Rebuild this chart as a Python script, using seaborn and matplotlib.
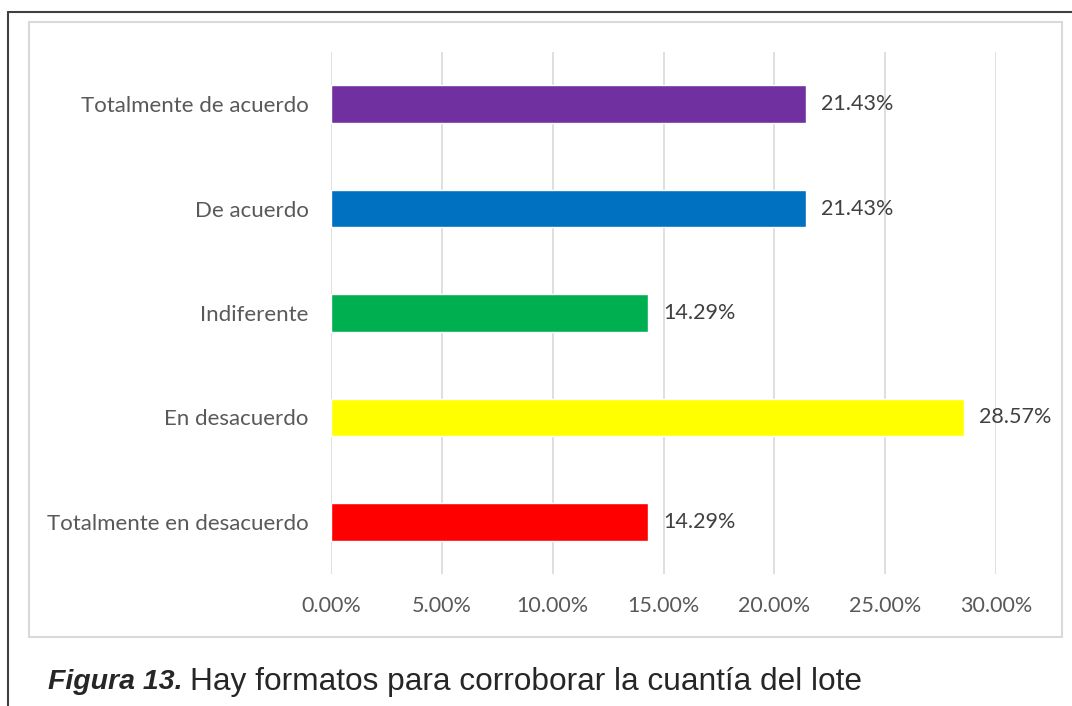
import matplotlib
matplotlib.use("Agg")
import matplotlib.pyplot as plt
import seaborn as sns
import pandas as pd
from matplotlib.lines import Line2D
from matplotlib.patches import Rectangle
from matplotlib.ticker import FuncFormatter

categories = ['Totalmente de acuerdo', 'De acuerdo', 'Indiferente',
              'En desacuerdo', 'Totalmente en desacuerdo']
values = [0.2143, 0.2143, 0.1429, 0.2857, 0.1429]
colors = ['#7030A0', '#0070C0', '#00B050', '#FFFF00', '#FF0000']

df = pd.DataFrame({'Respuesta': categories, 'Porcentaje': values})

sns.set_style('white')
plt.rcParams['font.family'] = ['Lato', 'DejaVu Sans']

W, H = 1072, 706
fig = plt.figure(figsize=(W / 100, H / 100), dpi=100)

# outer frame (black, top and left) and chart frame (light gray)
fig.add_artist(Line2D([8 / W, 1], [1 - 12 / H, 1 - 12 / H], color='#404040', lw=1.5))
fig.add_artist(Line2D([8 / W, 8 / W], [0, 1 - 12 / H], color='#404040', lw=1.5))
fig.add_artist(Rectangle((29 / W, 1 - 637 / H), (1062 - 29) / W, (637 - 22) / H,
                         fill=False, edgecolor='#d9d9d9', lw=1.5))

ax = fig.add_axes([331 / W, 1 - 574 / H, (996 - 331) / W, (574 - 52) / H])
sns.barplot(data=df, x='Porcentaje', y='Respuesta', hue='Respuesta',
            palette=colors, width=0.36, legend=False, ax=ax, saturation=1)

fs = 15.5
ax.set_xlim(0, 0.30)
ax.set_xticks([0, 0.05, 0.10, 0.15, 0.20, 0.25, 0.30])
ax.xaxis.set_major_formatter(FuncFormatter(lambda v, p: f'{v * 100:.2f}%'))
ax.grid(axis='x', color='#d9d9d9', lw=1.2)
ax.set_axisbelow(True)
for s in ax.spines.values():
    s.set_visible(False)
ax.tick_params(axis='x', length=0, pad=16, labelsize=fs, labelcolor='#595959')
ax.tick_params(axis='y', length=0, pad=16, labelsize=16, labelcolor='#595959')
ax.set_xlabel('')
ax.set_ylabel('')

for i, v in enumerate(values):
    ax.text(v + 0.0068, i, f'{v * 100:.2f}%', va='center', ha='left',
            fontsize=fs, color='#404040')

# caption: bold italic label followed by plain text
renderer = fig.canvas.get_renderer()
t1 = fig.text(48 / W, 1 - 682 / H, 'Figura 13.', fontsize=20.5, fontweight='bold',
              fontstyle='italic', family='Liberation Sans', va='center', ha='left')
x_end = t1.get_window_extent(renderer).x1
fig.text((x_end + 7) / W, 1 - 682 / H, 'Hay formatos para corroborar la cuantía del lote',
         fontsize=22.8, family='Liberation Sans', va='center', ha='left')

fig.savefig('out.png', dpi=100)
